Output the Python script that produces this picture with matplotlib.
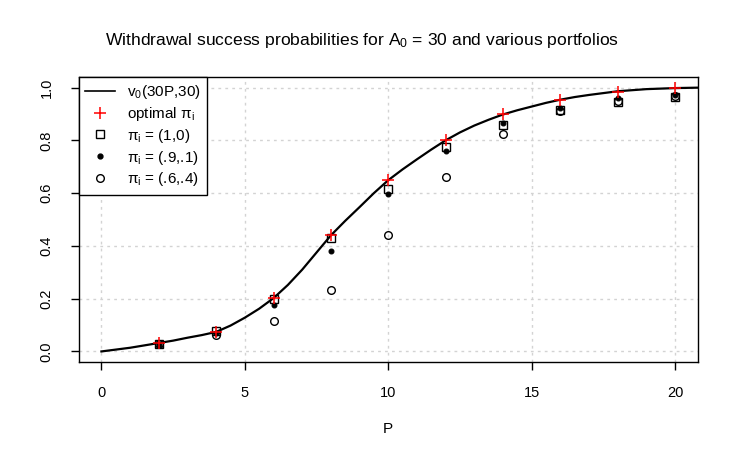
import matplotlib
matplotlib.use("Agg")
import matplotlib.pyplot as plt
from matplotlib.lines import Line2D

plt.rcParams['font.family'] = ['Liberation Sans', 'DejaVu Sans']
plt.rcParams['mathtext.fontset'] = 'custom'
plt.rcParams['mathtext.rm'] = 'Liberation Sans'
plt.rcParams['mathtext.it'] = 'Liberation Sans'

# Curve v0(30P,30)
curve_P = [0, 0.5, 1, 1.5, 2, 2.5, 3, 3.5, 4, 4.5, 5, 5.5, 6, 6.5, 7, 7.5, 8, 8.5, 9, 9.5,
           10, 10.5, 11, 11.5, 12, 12.5, 13, 13.5, 14, 14.5, 15, 15.5, 16, 16.5, 17, 17.5,
           18, 18.5, 19, 19.5, 20, 20.5, 21]
curve_v = [0.0, 0.007, 0.014, 0.023, 0.032, 0.041, 0.052, 0.062, 0.074, 0.098, 0.128, 0.162,
           0.202, 0.252, 0.310, 0.375, 0.440, 0.495, 0.547, 0.600, 0.649, 0.690, 0.728,
           0.765, 0.800, 0.830, 0.856, 0.878, 0.898, 0.914, 0.928, 0.942, 0.954, 0.964,
           0.972, 0.979, 0.986, 0.990, 0.994, 0.996, 0.998, 0.999, 1.0]

# Points
P = [2, 4, 6, 8, 10, 12, 14, 16, 18, 20]
optimal = [0.032, 0.074, 0.202, 0.440, 0.649, 0.800, 0.898, 0.952, 0.985, 0.997]
pi_10 = [0.028, 0.076, 0.200, 0.430, 0.617, 0.776, 0.860, 0.914, 0.946, 0.965]
pi_91 = [0.025, 0.070, 0.177, 0.380, 0.597, 0.758, 0.865, 0.923, 0.959, 0.971]
pi_64 = [0.028, 0.062, 0.115, 0.231, 0.442, 0.662, 0.823, 0.912, 0.950, 0.968]

fig = plt.figure(figsize=(7.39, 4.58), dpi=100)
ax = fig.add_axes([78.5/739, 1-362/458, (698-78.5)/739, (362-77)/458])

ax.plot(curve_P, curve_v, color='black', lw=1.6, zorder=3)
ax.plot(P, pi_10, ls='none', marker='s', ms=6, mfc='none', mec='black', mew=1, zorder=4)
ax.plot(P, pi_91, ls='none', marker='o', ms=3.5, mfc='black', mec='black', mew=0.8, zorder=5)
ax.plot(P, pi_64, ls='none', marker='o', ms=5.5, mfc='none', mec='black', mew=1, zorder=4)
ax.plot(P, optimal, ls='none', marker='+', ms=9, mec='red', mew=1.1, zorder=6)

ax.set_xlim(-0.8, 20.8)
ax.set_ylim(-0.04, 1.04)
ax.set_xticks([0, 5, 10, 15, 20])
ax.set_yticks([0.0, 0.2, 0.4, 0.6, 0.8, 1.0])
ax.set_yticklabels(['0.0', '0.2', '0.4', '0.6', '0.8', '1.0'], rotation=90, va='center')
ax.grid(True, color='#d3d3d3', ls=(0, (2, 3)), lw=1)
ax.set_axisbelow(True)
for s in ax.spines.values():
    s.set_color('black')
    s.set_linewidth(1)
ax.tick_params(axis='both', direction='out', length=6, width=1, labelsize=10.5, color='black', labelcolor='black')
ax.tick_params(axis='x', pad=11)
ax.tick_params(axis='y', pad=12)

ax.set_xlabel('P', fontsize=11, labelpad=16)
fig.text(362/739, 1-40/458, r'Withdrawal success probabilities for A$_\mathregular{0}$ = 30 and various portfolios',
         ha='center', va='center', fontsize=12.6)

handles = [
    Line2D([], [], color='black', lw=1.2),
    Line2D([], [], ls='none', marker='+', ms=9, mec='red', mew=1.1),
    Line2D([], [], ls='none', marker='s', ms=6, mfc='none', mec='black', mew=1),
    Line2D([], [], ls='none', marker='o', ms=3.5, mfc='black', mec='black'),
    Line2D([], [], ls='none', marker='o', ms=5.5, mfc='none', mec='black', mew=1),
]
labels = [r'v$_\mathregular{0}$(30P,30)', r'optimal π$_\mathregular{i}$',
          r'π$_\mathregular{i}$ = (1,0)', r'π$_\mathregular{i}$ = (.9,.1)', r'π$_\mathregular{i}$ = (.6,.4)']
leg = ax.legend(handles, labels, loc='upper left', borderaxespad=0, fontsize=11,
                frameon=True, fancybox=False, edgecolor='black', framealpha=1,
                handlelength=2.0, handletextpad=0.8, labelspacing=0.25, borderpad=0.4)
leg.get_frame().set_linewidth(1)

fig.savefig('out.png', dpi=100)
